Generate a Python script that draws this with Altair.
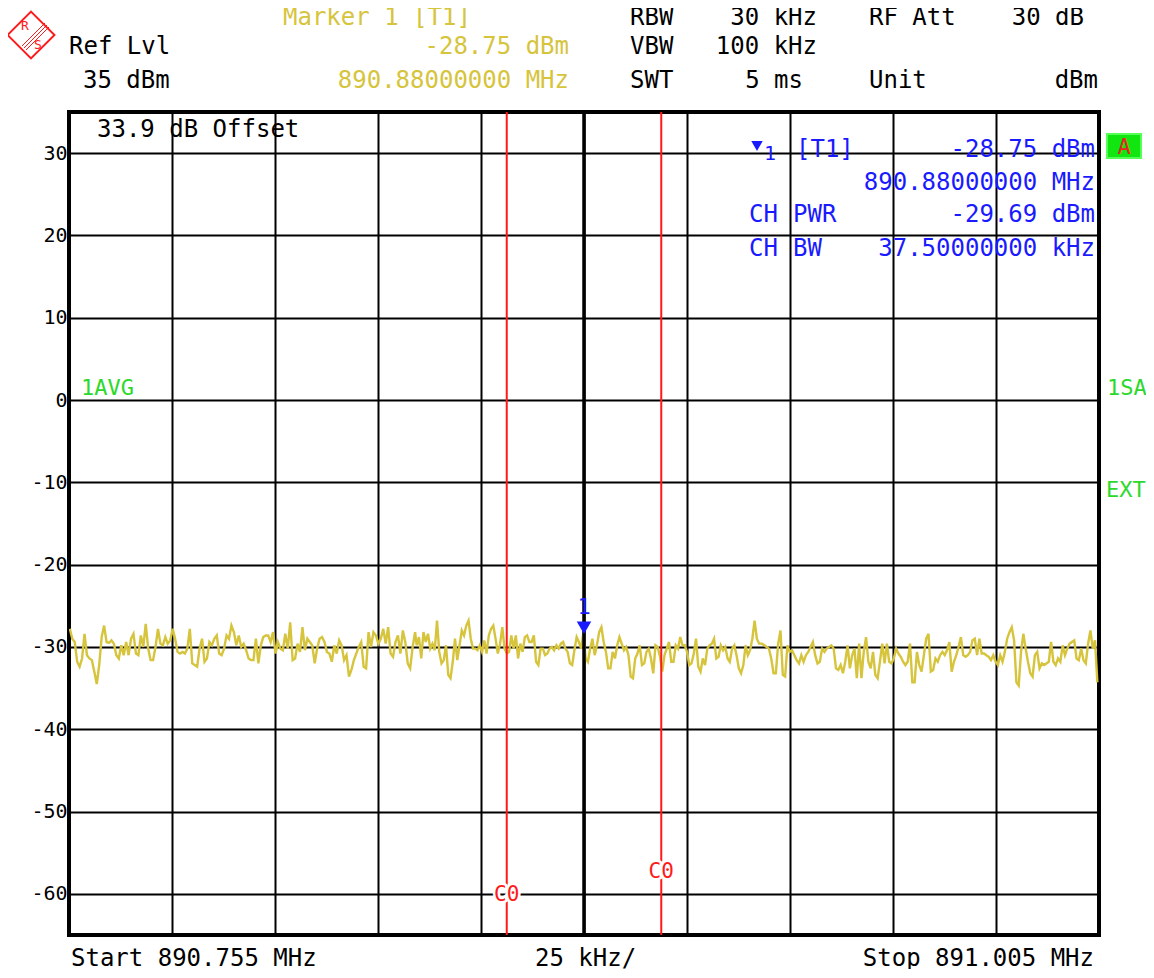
import altair as alt
import numpy as np
import pandas as pd

# ---------------- data ----------------
START_MHZ = 890.755
STOP_MHZ = 891.005
REF_LVL = 35
BOTTOM_LVL = -65
Y_TICKS = [30, 20, 10, 0, -10, -20, -30, -40, -50, -60]
X_GRID = [round(START_MHZ + 0.025 * i, 6) for i in range(1, 10)]
CENTER_MHZ = 890.88
CH_LINES_MHZ = [890.86125, 890.89875]
MARKER_F = 890.88
MARKER_LVL = -28.75

# trace levels (dBm) in three stretches of the sweep
seg1 = [-27.8, -29, -29.4, -31.8, -32.4, -31.4, -28.4, -31, -31.4, -31.6, -33, -34.5, -32.2, -28.8, -27.4,
        -29.4, -29.5, -29.2, -29.6, -31, -31.4, -29.8, -31, -29.4, -31, -29, -28.4, -30.8, -31, -28.6, -30,
        -27.2, -30.2, -31.6, -31.6, -30, -27.8, -29.6, -29.8, -28.8, -29.6, -29.2, -27.8, -29, -30.6, -30.8,
        -30.6, -30.8, -30.2, -27.8, -32, -32.2, -32.4, -30.2, -29, -31.8, -31.4, -29.4, -29.8, -29, -28.6,
        -30.8, -31, -30.2, -28.6, -29, -27.4, -28.2, -29.8, -28.6, -30, -29.6, -30.4, -31.4, -31.6, -31.6,
        -29, -32, -29.8, -28.8, -28.6, -28.6, -29.4, -28.2, -30.8, -29.4, -30.2, -30.4, -28.4, -30.2, -27,
        -31.6, -31.4, -29.6, -30.6, -27.6, -30.4, -29, -29.4, -29.8, -32, -30.2, -29, -28.8, -29.4, -30.6,
        -30.8, -31.8, -29.8, -30.8, -29.2, -29.8, -31.6, -31, -33.6, -32.8, -31.6, -30.8, -30, -29.4, -32.4,
        -32.6, -28.2, -30, -28.2, -28.6, -29.6, -29, -27.8, -29.6, -27.6, -30.8, -31.2, -29.4, -28.6, -30.8,
        -28, -29.4, -32, -32.6, -30, -28.2]
seg2 = [-29.8, -28.8, -31.4, -28.2, -29.4, -28.4, -30.2, -29.6, -30.4, -26.8, -30.6, -32, -31.6, -29.8,
        -33.4, -33.8, -31.8, -29, -31.6, -29.8, -28, -28.6, -27.4, -26.8, -29, -30.2, -30.2, -30.4, -29.8,
        -30.6, -29.2, -30.8, -28.6, -27.8, -27.4, -29, -30.8, -29.6, -27.6, -30.2, -30.8, -30.6, -28.6,
        -30.2, -28.6, -31.4, -29.6, -30.6, -28.8, -28.6, -29.4, -29.4, -28.6, -31.8, -32.2, -30.2, -30.2,
        -31, -30.8, -30.2, -30, -30.4, -29.8, -30.2, -29.6, -29.4, -30.2, -30.6, -32, -32.2, -30.4, -28.8,
        -29.4, -30.2, -28.2, -31.4, -31.8, -30.2, -29, -31, -29.8, -28.2, -27.6, -29.4, -30.6, -32.6, -32.6,
        -30.6, -31.4, -29.8, -28.8, -29.6, -30.4, -30, -31, -33.6, -33.8, -31.4, -30.8, -29.8, -32.2, -32,
        -30.6, -30.2, -31.4, -33.2, -29.8, -30, -31.2, -33, -31, -30.2, -29.4, -31.8, -31.8, -29.8, -30.2,
        -28.8, -29.8, -29.8, -30.6, -32.2, -32, -30.8, -29, -32.4, -33, -31.4, -32.2, -30.2, -29.8, -29.6,
        -29, -31.4, -31.2, -29.8, -30.4, -30, -31.4, -31.8, -30.2, -29.8, -31, -32.6, -33.2, -32.2, -29.8,
        -31, -30.4, -29, -26.8, -29, -29.6]
seg3 = [-29.6, -29.8, -30, -30.2, -31.4, -33.2, -33.2, -29.6, -28, -33.4, -33.6, -29.8, -30.6, -30.4, -31,
        -31.6, -32, -31, -31.8, -31, -30.6, -30, -29.4, -31, -32, -31.8, -30.2, -30.6, -30.2, -30, -29.8,
        -30.2, -32.6, -32.8, -32.2, -33.2, -31.8, -29.8, -32.6, -31, -30.2, -33.8, -29.6, -33.8, -30.6,
        -28.8, -31.8, -32.6, -30.6, -33.4, -33.8, -31.8, -29.6, -32, -29.6, -31.8, -32, -31.4, -30.2, -30.8,
        -31.2, -31.8, -32.2, -31.8, -29.6, -34.3, -34.3, -30.6, -32.2, -33, -31, -29, -28.4, -33, -32.8,
        -31.4, -31.8, -31, -30.6, -31, -30.4, -29.4, -33, -31.8, -31, -30, -28.8, -31, -31.2, -31, -30.6,
        -29.2, -29, -31, -29, -30.8, -30.8, -31, -31.2, -31.6, -31, -31.8, -32.2, -31, -31.8, -30.6, -29,
        -28.2, -27.6, -29.2, -34.3, -34.7, -30.6, -28.4, -30.2, -31.8, -33.2, -33.6, -31, -30.6, -32.6, -32,
        -32.2, -32, -31.8, -29.4, -31.8, -32.2, -31.4, -31.8, -29.8, -31, -30.2, -29.6, -29.4, -29.2, -31.4,
        -31.6, -30.2, -31.6, -32, -29.6, -28, -30.2, -29.2, -34.3]
seg_levels = [seg1, seg2, seg3]
seg_start_khz = [0.2, 84.4, 168.2]
seg_end_khz = [84.0, 167.5, 249.6]

freqs, levels = [], []
for lv, s, e in zip(seg_levels, seg_start_khz, seg_end_khz):
    freqs.extend(list(START_MHZ + np.linspace(s, e, len(lv)) / 1000.0))
    levels.extend(lv)
trace = pd.DataFrame({"f": freqs, "dbm": levels})

# ---------------- styling ----------------
MONO = "DejaVu Sans Mono"
YEL = "#d6c43c"
BLUE = "#1a1aff"
GREEN = "#2bd92b"
RED = "#ff1a1a"
OX, OY = 69, 112  # plot origin on the page
W, H = 1030, 823
ONE = pd.DataFrame({"a": [0]})

xs = alt.Scale(domain=[START_MHZ, STOP_MHZ], nice=False, zero=False)
ys = alt.Scale(domain=[BOTTOM_LVL, REF_LVL], nice=False, zero=False)

base = alt.Chart(trace).mark_line(color=YEL, strokeWidth=2.4, clip=True).encode(
    x=alt.X("f:Q", scale=xs, title=None,
            axis=alt.Axis(values=X_GRID, grid=True, gridColor="black", gridWidth=2, gridOpacity=1,
                          labels=False, ticks=False, domain=False)),
    y=alt.Y("dbm:Q", scale=ys, title=None,
            axis=alt.Axis(values=Y_TICKS, grid=True, gridColor="black", gridWidth=2, gridOpacity=1,
                          ticks=False, domain=False, labelFont=MONO, labelFontSize=20,
                          labelColor="black", labelPadding=2, labelExpr="'' + datum.value")),
)

center = alt.Chart(pd.DataFrame({"f": [CENTER_MHZ]})).mark_rule(color="black", strokeWidth=3.5).encode(
    x=alt.X("f:Q", scale=xs))
ch_lines = alt.Chart(pd.DataFrame({"f": CH_LINES_MHZ})).mark_rule(color=RED, strokeWidth=2).encode(
    x=alt.X("f:Q", scale=xs))


def c0(fq, py):
    d = pd.DataFrame({"f": [fq]})
    halo = alt.Chart(d).mark_text(text="C0", font=MONO, fontSize=21, color="white", stroke="white",
                                  strokeWidth=5, baseline="middle").encode(
        x=alt.X("f:Q", scale=xs), y=alt.value(py - OY))
    fg = alt.Chart(d).mark_text(text="C0", font=MONO, fontSize=21, color=RED, baseline="middle").encode(
        x=alt.X("f:Q", scale=xs), y=alt.value(py - OY))
    return [halo, fg]


mk = pd.DataFrame({"f": [MARKER_F], "dbm": [MARKER_LVL]})
marker = alt.Chart(mk).mark_point(shape="triangle-down", filled=True, color=BLUE, size=210, opacity=1,
                                  yOffset=-9).encode(x=alt.X("f:Q", scale=xs), y=alt.Y("dbm:Q", scale=ys))
marker_lbl = alt.Chart(mk).mark_text(text="1", font=MONO, fontSize=22, color=BLUE, yOffset=-30).encode(
    x=alt.X("f:Q", scale=xs), y=alt.Y("dbm:Q", scale=ys))


def T(s, x, y, color="black", align="left", size=24):
    return alt.Chart(ONE).mark_text(font=MONO, fontSize=size, color=color, align=align,
                                    baseline="middle").encode(
        x=alt.value(x - OX), y=alt.value(y - OY), text=alt.value(s))


R1 = 17.5
texts = [
    # header
    T("Marker 1 [T1]", 283, R1, YEL),
    T("Ref Lvl", 69, 47),
    T("-28.75 dBm", 569, 47, YEL, "right"),
    T("35 dBm", 83, 81),
    T("890.88000000 MHz", 569, 81, YEL, "right"),
    T("RBW", 630, R1), T("30 kHz", 817, R1, align="right"),
    T("RF Att", 869, R1), T("30 dB", 1084, R1, align="right"),
    T("VBW", 630, 47), T("100 kHz", 817, 47, align="right"),
    T("SWT", 630, 81), T("5 ms", 803, 81, align="right"),
    T("Unit", 869, 81), T("dBm", 1098, 81, align="right"),
    # inside plot
    T("33.9 dB Offset", 97, 130),
    T("1AVG", 81, 388, GREEN, size=22),
    T("1", 764, 154, BLUE, size=20), T("[T1]", 796, 150, BLUE),
    T("-28.75 dBm", 1095, 150, BLUE, "right"),
    T("890.88000000 MHz", 1095, 183, BLUE, "right"),
    T("CH", 749, 215, BLUE), T("PWR", 793, 215, BLUE), T("-29.69 dBm", 1095, 215, BLUE, "right"),
    T("CH", 749, 249, BLUE), T("BW", 793, 249, BLUE), T("37.50000000 kHz", 1095, 249, BLUE, "right"),
    # right side
    T("1SA", 1107, 388, GREEN, size=22),
    T("EXT", 1106, 490, GREEN, size=22),
    # footer
    T("Start 890.755 MHz", 71, 959),
    T("25 kHz/", 535, 959),
    T("Stop 891.005 MHz", 1094, 959, align="right"),
]

blue_tri = alt.Chart(ONE).mark_point(shape="triangle-down", filled=True, color=BLUE, size=130, opacity=1).encode(
    x=alt.value(757 - OX), y=alt.value(146 - OY))

a_box = alt.Chart(ONE).mark_rect(color="#11e611", stroke="#55ff55", strokeWidth=2).encode(
    x=alt.value(1107 - OX), x2=alt.value(1141 - OX), y=alt.value(134 - OY), y2=alt.value(158 - OY))
a_txt = T("A", 1124, 147, "#ee2222", "center", 22)

# R&S logo
logo_box = alt.Chart(ONE).mark_point(shape="square", angle=45, filled=False, color=RED, strokeWidth=2,
                                     size=1100, opacity=1).encode(x=alt.value(31 - OX), y=alt.value(35 - OY))
logo_r = T("R", 25, 26, RED, "center", 13)
logo_s = T("S", 38, 45, RED, "center", 13)
logo_lines = [
    alt.Chart(ONE).mark_rule(color=RED, strokeWidth=1).encode(
        x=alt.value(x1 - OX), x2=alt.value(x2 - OX), y=alt.value(y1 - OY), y2=alt.value(y2 - OY))
    for (x1, y1, x2, y2) in [(22, 46, 45, 23), (24, 48, 47, 25), (26, 50, 49, 27)]
]

layers = [base, ch_lines, center] + c0(CH_LINES_MHZ[0], 895) + c0(CH_LINES_MHZ[1], 872) + \
         [marker, marker_lbl, blue_tri, a_box, a_txt, logo_box, logo_r, logo_s] + logo_lines + texts

chart = alt.layer(*layers).properties(
    width=W, height=H,
    autosize=alt.AutoSizeParams(type="none"),
    padding={"left": 61, "top": 104, "right": 47, "bottom": 34},
    background="white",
).configure_view(stroke="black", strokeWidth=4)

chart.save("out.html", embed_options={"renderer": "svg", "actions": False})
